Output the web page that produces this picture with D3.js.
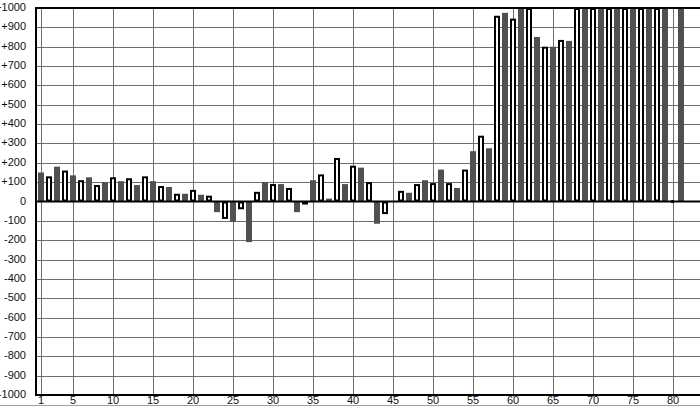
<!DOCTYPE html>
<html><head><meta charset="utf-8">
<script src="https://cdn.jsdelivr.net/npm/d3@7/dist/d3.min.js"></script>
<style>html,body{margin:0;padding:0;background:#fff;overflow:hidden}</style>
</head><body><svg id="c" width="700" height="407"></svg>
<script>
// Dark bars sit on odd categories, outlined white bars on even ones
const darkCategories = [1,3,5,7,9,11,13,15,17,19,21,23,25,27,29,31,33,35,37,39,41,43,45,47,49,51,53,55,57,59,61,63,65,67,69,71,73,75,77,79,81];
const darkValues = [150,180,135,125,100,105,85,105,75,40,35,-55,-105,-210,100,90,-55,110,15,90,175,-115,0,45,110,165,70,260,275,975,1000,850,800,830,1000,1000,1000,1000,1000,1000,1000];
const whiteCategories = [2,4,6,8,10,12,14,16,18,20,22,24,26,28,30,32,34,36,38,40,42,44,46,48,50,52,54,56,58,60,62,64,66,68,70,72,74,76,78,80];
const whiteValues = [130,160,110,85,125,120,130,80,40,60,30,-90,-40,50,90,70,-5,140,225,185,100,-65,55,90,95,95,165,340,960,945,1000,800,835,1000,1000,1000,1000,1000,1000,0];
const xTickValues = [1,5,10,15,20,25,30,35,40,45,50,55,60,65,70,75,80];
const yTickValues = [-1000,-900,-800,-700,-600,-500,-400,-300,-200,-100,0,100,200,300,400,500,600,700,800,900,1000];

const svg = d3.select("#c");
const L = 36, R = 700, T = 8, B = 395;
const x = d3.scaleLinear().domain([0.375, 83.375]).range([L, R]);
const y = d3.scaleLinear().domain([-1000, 1000]).range([B, T]);
const font = "'Liberation Sans', Arial, sans-serif";

// grid
svg.append("g").selectAll("line").data(yTickValues.filter(v => v !== 0 && Math.abs(v) !== 1000)).join("line")
  .attr("x1", L).attr("x2", R).attr("y1", d => Math.round(y(d)) + 0.5).attr("y2", d => Math.round(y(d)) + 0.5)
  .attr("stroke", "#6e6e6e").attr("stroke-width", 1);
svg.append("g").selectAll("line").data(xTickValues).join("line")
  .attr("x1", d => Math.round(x(d)) + 0.5).attr("x2", d => Math.round(x(d)) + 0.5)
  .attr("y1", T).attr("y2", B + 2)
  .attr("stroke", "#6e6e6e").attr("stroke-width", 1);

svg.append("clipPath").attr("id", "clip").append("rect")
  .attr("x", L).attr("y", T).attr("width", R - L).attr("height", B - T);
const bars = svg.append("g").attr("clip-path", "url(#clip)");

const darkData = darkCategories.map((c, i) => ({c, v: darkValues[i]}));
const whiteData = whiteCategories.map((c, i) => ({c, v: whiteValues[i]}));

bars.selectAll("rect.d").data(darkData).join("rect").attr("class", "d")
  .attr("x", d => x(d.c) - 3).attr("width", 6)
  .attr("y", d => y(Math.max(d.v, 0)))
  .attr("height", d => Math.abs(y(d.v) - y(0)))
  .attr("fill", "#505050");

bars.selectAll("rect.w").data(whiteData).join("rect").attr("class", "w")
  .attr("x", d => d.v === 0 ? x(d.c) - 1 : x(d.c) - 2).attr("width", d => d.v === 0 ? 1 : 4)
  .attr("y", d => d.v === 0 ? y(0) - 0.5 : y(Math.max(d.v, 0)) + 1)
  .attr("height", d => Math.max(1, Math.abs(y(d.v) - y(0)) - 2))
  .attr("fill", "#fff").attr("stroke", "#000").attr("stroke-width", 2);

// frame & zero line
const frame = svg.append("g").attr("stroke", "#000").attr("stroke-width", 2);
frame.append("line").attr("x1", L).attr("x2", R).attr("y1", y(0)).attr("y2", y(0));
frame.append("line").attr("x1", L).attr("x2", R).attr("y1", y(1000)).attr("y2", y(1000));
frame.append("line").attr("x1", L).attr("x2", R).attr("y1", y(-1000)).attr("y2", y(-1000));
frame.append("line").attr("x1", L).attr("x2", L).attr("y1", y(1000) - 1).attr("y2", y(-1000) + 1);

// y labels
svg.append("g").selectAll("text").data(yTickValues).join("text")
  .attr("x", 26).attr("y", d => y(d) + 3)
  .attr("text-anchor", "end")
  .attr("font-family", font).attr("font-size", 11).attr("fill", "#111")
  .text(d => d > 0 ? "+" + d : String(d));

// x labels
svg.append("g").selectAll("text").data(xTickValues).join("text")
  .attr("x", d => x(d)).attr("y", 404)
  .attr("text-anchor", "middle")
  .attr("font-family", font).attr("font-size", 11).attr("fill", "#111")
  .text(d => d);

svg.append("line").attr("x1", 0).attr("x2", 700).attr("y1", 405.5).attr("y2", 405.5)
  .attr("stroke", "#a0a0a0").attr("stroke-width", 1);
</script></body></html>
